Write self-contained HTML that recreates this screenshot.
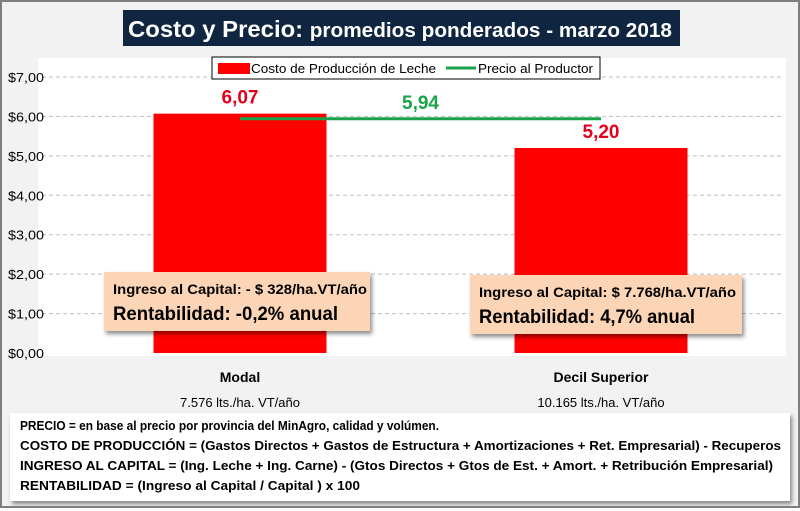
<!DOCTYPE html>
<html><head><meta charset="utf-8"><style>
body{margin:0;width:800px;height:508px;overflow:hidden;font-family:"Liberation Sans",sans-serif}
#wrap{position:absolute;left:0;top:0;width:796px;height:504px;border:2px solid #7f7f7f;background:#f2f2f2}
text{font-family:"Liberation Sans",sans-serif}
</style></head><body>
<div id="wrap">
<svg width="796" height="504">
<defs><filter id="sh" x="-10%" y="-10%" width="130%" height="140%"><feDropShadow dx="2" dy="3" stdDeviation="2" flood-opacity="0.45"/></filter></defs>
<rect x="36" y="56" width="748" height="298" fill="#fff"/>
<rect x="121" y="8" width="557" height="36" fill="#0f2540"/>
<text x="126" y="35" textLength="544" lengthAdjust="spacingAndGlyphs" fill="#fff" font-size="23" font-weight="bold">Costo  y Precio: <tspan font-size="20">promedios ponderados - marzo 2018</tspan></text>
<g id="grid"></g><g id="bars"></g><g id="line"></g>
<rect x="210" y="55" width="388" height="22" fill="#fff" stroke="#000"/>
<rect x="216" y="61" width="32" height="11" fill="#ff0000"/>
<text x="249" y="71" font-size="13" textLength="185" lengthAdjust="spacingAndGlyphs">Costo de Producción de Leche</text>
<line x1="444" y1="66" x2="474" y2="66" stroke="#1aa34a" stroke-width="3"/>
<text x="476" y="71" font-size="13" textLength="115" lengthAdjust="spacingAndGlyphs">Precio al Productor</text>
<g filter="url(#sh)">
<rect x="102" y="270" width="266" height="59" fill="#fbd5b5"/>
<rect x="468" y="273" width="272" height="59" fill="#fbd5b5"/>
<rect x="8" y="411" width="780" height="88" fill="#fff"/>
</g>
<text x="111" y="292" font-size="14" font-weight="bold" textLength="254" lengthAdjust="spacingAndGlyphs">Ingreso al Capital: - $ 328/ha.VT/año</text>
<text x="111" y="318" font-size="19" font-weight="bold" textLength="225" lengthAdjust="spacingAndGlyphs">Rentabilidad: -0,2% anual</text>
<text x="477" y="295" font-size="14" font-weight="bold" textLength="257" lengthAdjust="spacingAndGlyphs">Ingreso al Capital: $ 7.768/ha.VT/año</text>
<text x="477" y="321" font-size="19" font-weight="bold" textLength="216" lengthAdjust="spacingAndGlyphs">Rentabilidad: 4,7% anual</text>
<g font-size="13" font-weight="bold">
<text x="18" y="428" textLength="419" lengthAdjust="spacingAndGlyphs">PRECIO = en base al precio por provincia del MinAgro, calidad y volúmen.</text>
<text x="18" y="448" textLength="761" lengthAdjust="spacingAndGlyphs">COSTO DE PRODUCCIÓN = (Gastos Directos + Gastos de Estructura + Amortizaciones + Ret. Empresarial) - Recuperos</text>
<text x="18" y="468" textLength="753" lengthAdjust="spacingAndGlyphs">INGRESO AL CAPITAL = (Ing. Leche + Ing. Carne) - (Gtos Directos + Gtos de Est. + Amort. + Retribución Empresarial)</text>
<text x="18" y="488" textLength="340" lengthAdjust="spacingAndGlyphs">RENTABILIDAD = (Ingreso al Capital / Capital ) x 100</text>
</g>
<g id="xlabels"></g>
</svg></div>
<script>
const categories=["Modal","Decil Superior"];
const subLabels=["7.576 lts./ha. VT/año","10.165 lts./ha.  VT/año"];
const costValues=[6.07,5.20];
const priceValues=[5.94,5.94];
const yTicks=[0,1,2,3,4,5,6,7];
const tickLabels=["$0,00","$1,00","$2,00","$3,00","$4,00","$5,00","$6,00","$7,00"];
const NS="http://www.w3.org/2000/svg";
const y=v=>351-v*39.43;
const xc=i=>238+i*361;
const bw=173;
function mk(t,a,p){const e=document.createElementNS(NS,t);for(const k in a)e.setAttribute(k,a[k]);p.appendChild(e);return e;}
const g=document.getElementById('grid');
yTicks.forEach((t,i)=>{
 if(t>0){const l=mk('line',{x1:40,x2:782,y1:y(t),y2:y(t),stroke:'#bfbfbf','stroke-dasharray':'4,3'},g);
 
 }
 const tx=mk('text',{x:6,y:y(t)+5,'font-size':13,textLength:36,lengthAdjust:'spacingAndGlyphs'},g);tx.textContent=tickLabels[i];
 
 
});
const b=document.getElementById('bars');
costValues.forEach((v,i)=>{
 const r=mk('rect',{x:xc(i)-bw/2,y:y(v),width:bw,height:y(0)-y(v),fill:'#ff0000'},b);
 
 
 const t=mk('text',{x:xc(i),y:y(v)-10,'text-anchor':'middle','font-size':19,'font-weight':'bold',fill:'#e3001b'},b);t.textContent=v.toFixed(2).replace('.',',');
 
 
});
const ln=document.getElementById('line');
const pl=mk('polyline',{points:priceValues.map((v,i)=>xc(i)+','+y(v)).join(' '),fill:'none',stroke:'#1aa34a','stroke-width':3},ln);


const pt=mk('text',{x:(xc(0)+xc(1))/2,y:y(priceValues[0])-10,'text-anchor':'middle','font-size':19,'font-weight':'bold',fill:'#1aa34a'},ln);
pt.textContent=priceValues[0].toFixed(2).replace('.',',');


const xl=document.getElementById('xlabels');
categories.forEach((c,i)=>{
 const t=mk('text',{x:xc(i),y:380,'text-anchor':'middle','font-size':14,'font-weight':'bold'},xl);t.textContent=c;
 
 
 const s=mk('text',{x:xc(i),y:405,'text-anchor':'middle','font-size':13},xl);s.textContent=subLabels[i];
 
 
});
</script>
</body></html>
